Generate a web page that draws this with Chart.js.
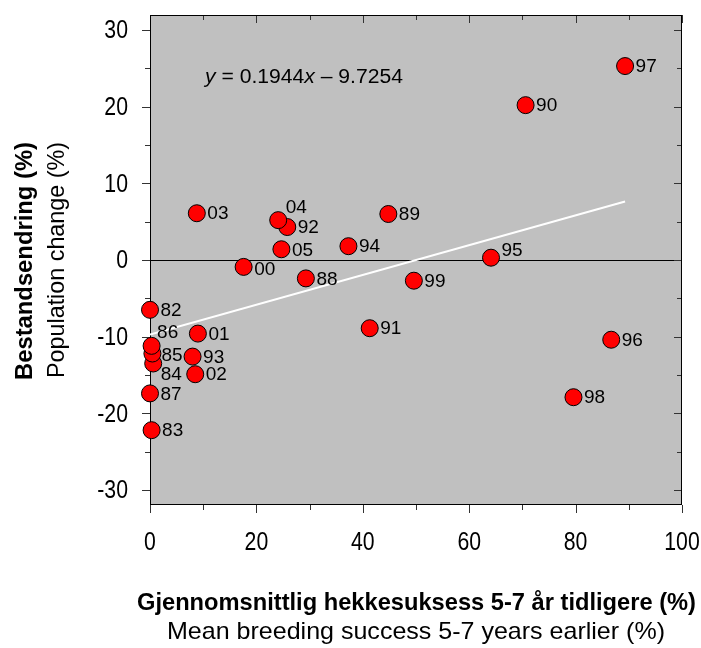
<!DOCTYPE html>
<html>
<head>
<meta charset="utf-8">
<title>Bestandsendring og hekkesuksess</title>
<script src="https://cdn.jsdelivr.net/npm/chart.js@4.4.1/dist/chart.umd.min.js"></script>
<style>
  html, body { margin: 0; padding: 0; background: #fff; }
</style>
</head>
<body>
<canvas id="chart" width="701" height="648"></canvas>
<script>
// year labels (19xx / 20xx) with breeding success 5-7 years earlier and population change
const years = ["82", "83", "84", "85", "86", "87", "88", "89", "90", "91", "92", "93",
               "94", "95", "96", "97", "98", "99", "00", "01", "02", "03", "04", "05"];
const breedingSuccess = [0, 0.3, 0.6, 0.45, 0.3, 0, 29.3, 44.8, 70.6, 41.3, 25.8, 8.0,
                         37.3, 64.1, 86.7, 89.3, 79.6, 49.6, 17.6, 9.0, 8.5, 8.8, 24.1, 24.7];
const populationChange = [-6.5, -22.2, -13.5, -12.2, -11.2, -17.4, -2.4, 6.0, 20.2, -8.9, 4.3, -12.6,
                          1.8, 0.3, -10.4, 25.3, -17.9, -2.7, -0.9, -9.6, -14.9, 6.1, 5.2, 1.4];
const slope = 0.1944;
const intercept = -9.7254;

const xTicks = [0, 20, 40, 60, 80, 100];
const xMinorTicks = [10, 30, 50, 70, 90];
const yTicks = [-30, -20, -10, 0, 10, 20, 30];
const yMinorTicks = [-25, -15, -5, 5, 15, 25];

// small nudges for labels that sit on top of each other
const labelNudge = {
  "04": [-3, -13], "95": [0, -7.5], "86": [-5, -14.5],
  "85": [-1.5, 1.5], "84": [-3, 10], "00": [0, 1.5]
};

const FONT = "'Liberation Sans', Arial, sans-serif";

const xMin = Math.min(...breedingSuccess);
const xMax = Math.max(...breedingSuccess);

// draw a row of text parts squeezed/stretched to a given width
function fitText(ctx, parts, cx, cy, width, rotate) {
  ctx.save();
  ctx.translate(cx, cy);
  if (rotate) ctx.rotate(-Math.PI / 2);
  let total = 0;
  parts.forEach(p => { ctx.font = p.font; p.w = ctx.measureText(p.text).width; total += p.w; });
  ctx.scale(width / total, 1);
  ctx.textBaseline = "middle";
  ctx.textAlign = "left";
  ctx.fillStyle = "#000";
  let x = -total / 2;
  parts.forEach(p => { ctx.font = p.font; ctx.fillText(p.text, x, 0); x += p.w; });
  ctx.restore();
}

// condensed tick label: scaled horizontally around its anchor
function narrowText(ctx, text, x, y, align) {
  ctx.save();
  ctx.translate(x, y);
  ctx.scale(0.85, 1);
  ctx.font = "25px " + FONT;
  ctx.fillStyle = "#000";
  ctx.textAlign = align;
  ctx.textBaseline = "middle";
  ctx.fillText(text, 0, 0);
  ctx.restore();
}

const noPad = s => { s.paddingLeft = 0; s.paddingRight = 0; s.paddingTop = 0; s.paddingBottom = 0; };

const plotFrame = {
  id: "plotFrame",
  beforeDatasetsDraw(chart) {
    const { ctx, chartArea: a, scales: { x, y } } = chart;
    ctx.save();
    ctx.fillStyle = "#c0c0c0";
    ctx.fillRect(a.left, a.top, a.width, a.height);

    ctx.strokeStyle = "#000";
    ctx.lineWidth = 1;
    const y0 = Math.round(y.getPixelForValue(0)) + 0.5;
    ctx.beginPath();
    ctx.moveTo(a.left, y0); ctx.lineTo(a.right, y0);
    ctx.stroke();

    ctx.strokeStyle = "#333";
    const line = (x1, y1, x2, y2) => { ctx.beginPath(); ctx.moveTo(x1, y1); ctx.lineTo(x2, y2); ctx.stroke(); };
    const yt = (v, len) => {
      const p = Math.round(y.getPixelForValue(v)) + 0.5;
      line(a.left - len, p, a.left, p);
      line(a.right, p, a.right - len, p);
    };
    const xt = (v, len) => {
      const p = Math.round(x.getPixelForValue(v)) + 0.5;
      line(p, a.bottom, p, a.bottom + len);
      line(p, a.top, p, a.top + len);
    };
    yTicks.forEach(v => yt(v, 8));
    yMinorTicks.forEach(v => yt(v, 5));
    xTicks.forEach(v => xt(v, 8));
    xMinorTicks.forEach(v => xt(v, 5));

    ctx.strokeStyle = "#000";
    ctx.strokeRect(Math.round(a.left) + 0.5, Math.round(a.top) + 0.5,
                   Math.round(a.width) - 1, Math.round(a.height) - 1);

    // tick labels
    yTicks.forEach(v => narrowText(ctx, String(v), a.left - 22, y.getPixelForValue(v) + 1.5, "right"));
    xTicks.forEach(v => narrowText(ctx, String(v), x.getPixelForValue(v), a.bottom + 38, "center"));
    ctx.restore();
  },
  afterDatasetsDraw(chart) {
    const { ctx } = chart;
    const meta = chart.getDatasetMeta(1);
    ctx.save();
    ctx.font = "19px " + FONT;
    ctx.fillStyle = "#000";
    ctx.textAlign = "left";
    ctx.textBaseline = "middle";
    meta.data.forEach((pt, i) => {
      const n = labelNudge[years[i]] || [0, 0];
      ctx.fillText(years[i], pt.x + 10.5 + n[0], pt.y + 1 + n[1]);
    });
    ctx.restore();
  },
  afterDraw(chart) {
    const { ctx, chartArea: a } = chart;
    const mid = (a.left + a.right) / 2;
    fitText(ctx, [{ text: "Gjennomsnittlig hekkesuksess 5-7 år tidligere (%)", font: "bold 24px " + FONT }],
            mid + 0.5, 603, 559);
    fitText(ctx, [{ text: "Mean breeding success 5-7 years earlier (%)", font: "24px " + FONT }],
            mid, 632, 498);
    fitText(ctx, [{ text: "Bestandsendring (%)", font: "bold 24px " + FONT }], 25, 261, 238, true);
    fitText(ctx, [{ text: "Population change (%)", font: "24px " + FONT }], 57, 260, 236, true);
    fitText(ctx, [
      { text: "y", font: "italic 20px " + FONT },
      { text: " = 0.1944", font: "20px " + FONT },
      { text: "x", font: "italic 20px " + FONT },
      { text: " – 9.7254", font: "20px " + FONT }
    ], 304, 77, 198);
  }
};

new Chart(document.getElementById("chart"), {
  data: {
    datasets: [
      {
        type: "line",
        data: [
          { x: xMin, y: slope * xMin + intercept },
          { x: xMax, y: slope * xMax + intercept }
        ],
        borderColor: "#fff",
        borderWidth: 2,
        pointRadius: 0,
        order: 2
      },
      {
        type: "scatter",
        data: breedingSuccess.map((v, i) => ({ x: v, y: populationChange[i] })),
        backgroundColor: "#ff0000",
        borderColor: "#000",
        borderWidth: 1,
        pointRadius: 8.5,
        clip: false,
        order: 1
      }
    ]
  },
  options: {
    responsive: false,
    devicePixelRatio: 1,
    animation: false,
    layout: { autoPadding: false, padding: { left: 0, right: 19, top: 15, bottom: 0 } },
    plugins: { legend: { display: false }, tooltip: { enabled: false } },
    scales: {
      x: {
        type: "linear",
        min: 0,
        max: 100,
        grid: { display: false, drawTicks: false },
        border: { display: false },
        afterBuildTicks: s => { s.ticks = xTicks.map(v => ({ value: v })); },
        afterFit: s => { s.height = 143; noPad(s); },
        ticks: { display: false }
      },
      y: {
        type: "linear",
        min: -31.96,
        max: 31.96,
        grid: { display: false, drawTicks: false },
        border: { display: false },
        afterBuildTicks: s => { s.ticks = yTicks.map(v => ({ value: v })); },
        afterFit: s => { s.width = 150; noPad(s); },
        ticks: { display: false }
      }
    }
  },
  plugins: [plotFrame]
});
</script>
</body>
</html>
